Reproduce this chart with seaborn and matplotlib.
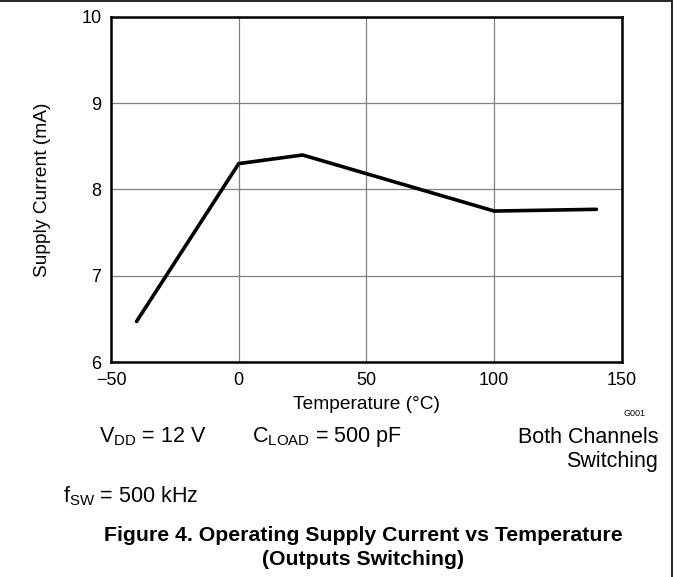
import matplotlib
matplotlib.use("Agg")
import matplotlib.pyplot as plt
from matplotlib.lines import Line2D
import seaborn as sns
import pandas as pd

# Operating supply current vs junction temperature
temperature_c = [-40, 0, 25, 100, 140]
supply_current_ma = [6.47, 8.3, 8.4, 7.75, 7.77]

x_ticks = [-50, 0, 50, 100, 150]
y_ticks = [6, 7, 8, 9, 10]

sns.set_style("white")
plt.rcParams["font.family"] = ["Liberation Sans", "DejaVu Sans"]
plt.rcParams["mathtext.fontset"] = "custom"
plt.rcParams["mathtext.rm"] = "Liberation Sans"
plt.rcParams["mathtext.it"] = "Liberation Sans"
plt.rcParams["mathtext.default"] = "rm"
plt.rcParams["text.color"] = "black"
plt.rcParams["axes.labelcolor"] = "black"

df = pd.DataFrame({"Temperature": temperature_c, "Current": supply_current_ma})

fig = plt.figure(figsize=(6.74, 5.77), dpi=100)
ax = fig.add_axes([0.1647, 0.3726, 0.758, 0.598])

sns.lineplot(data=df, x="Temperature", y="Current", ax=ax, color="black",
             linewidth=2.6, solid_capstyle="round", solid_joinstyle="miter", zorder=3)

ax.set_xlim(-50, 150)
ax.set_ylim(6, 10)
ax.set_xticks(x_ticks)
ax.set_yticks(y_ticks)
ax.set_xticklabels(["\u221250", "0", "50", "100", "150"])
ax.set_yticklabels([str(v) for v in y_ticks])
ax.tick_params(axis="both", length=0, labelsize=13, pad=7, colors="black")
ax.grid(True, color="#808080", linewidth=0.9)
for s in ax.spines.values():
    s.set_visible(True)
    s.set_color("black")
    s.set_linewidth(1.8)

ax.set_xlabel("Temperature (\u00b0C)", fontsize=13.8, labelpad=5)
ax.set_ylabel("Supply Current (mA)", fontsize=13.8, labelpad=22)

# Frame edges at the top and right of the figure
fig.add_artist(Line2D([0, 0.9975], [0.998, 0.998], transform=fig.transFigure,
                      color="black", linewidth=1.2))
fig.add_artist(Line2D([0.9975, 0.9975], [0, 0.998], transform=fig.transFigure,
                      color="black", linewidth=1.2))

def fy(py):
    return 1 - py / 577.0

def fx(px):
    return px / 674.0

fig.text(fx(645), fy(413), "G001", fontsize=6.5, ha="right", va="center")
fig.text(fx(99), fy(442), r"V$_{\mathrm{DD}}$ = 12 V", fontsize=15.5, ha="left", va="baseline")
fig.text(fx(252), fy(442), r"C$_{\mathrm{LOAD}}$ = 500 pF", fontsize=15.5, ha="left", va="baseline")
fig.text(fx(658), fy(443), "Both Channels", fontsize=15.5, ha="right", va="baseline")
fig.text(fx(658), fy(467), "Switching", fontsize=15.5, ha="right", va="baseline")
fig.text(fx(63), fy(502), r"f$_{\mathrm{SW}}$ = 500 kHz", fontsize=15.5, ha="left", va="baseline")

fig.text(fx(363), fy(541), "Figure 4. Operating Supply Current vs Temperature",
         fontsize=15.3, fontweight="bold", ha="center", va="baseline")
fig.text(fx(363), fy(565), "(Outputs Switching)",
         fontsize=15.3, fontweight="bold", ha="center", va="baseline")

fig.savefig("out.png", dpi=100)
